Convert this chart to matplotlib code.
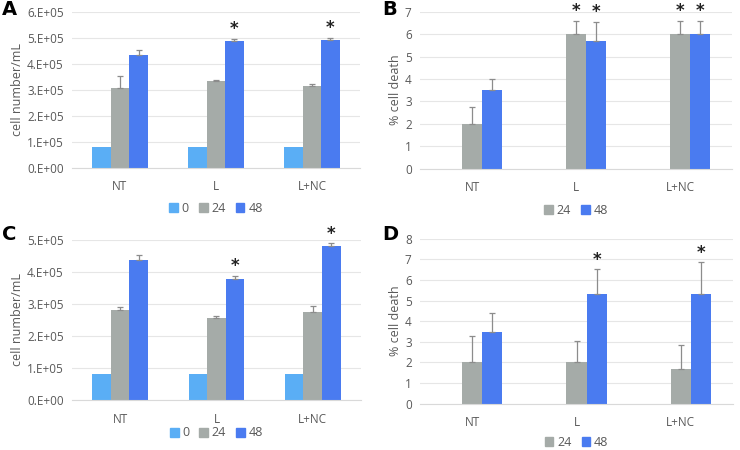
import matplotlib
matplotlib.use("Agg")
import matplotlib.pyplot as plt
import numpy as np
from matplotlib.patches import Patch

plt.rcParams['font.family'] = ['Open Sans', 'DejaVu Sans']

categories = ["NT", "L", "L+NC"]
series_names = ["0", "24", "48"]

# Panel A: cell number/mL
a_0 = [0.8e5, 0.8e5, 0.8e5]
a_24 = [3.09e5, 3.33e5, 3.14e5]
a_48 = [4.36e5, 4.90e5, 4.94e5]
a_24_err = [0.44e5, 0.05e5, 0.08e5]
a_48_err = [0.17e5, 0.07e5, 0.07e5]
a_star = [[], ["48"], ["48"]]

# Panel B: % cell death
b_24 = [2.0, 6.0, 6.0]
b_48 = [3.5, 5.68, 6.0]
b_24_err = [0.74, 0.6, 0.6]
b_48_err = [0.48, 0.87, 0.6]
b_star = [[], ["24", "48"], ["24", "48"]]

# Panel C: cell number/mL
c_0 = [0.8e5, 0.8e5, 0.8e5]
c_24 = [2.80e5, 2.57e5, 2.76e5]
c_48 = [4.37e5, 3.79e5, 4.82e5]
c_24_err = [0.11e5, 0.05e5, 0.18e5]
c_48_err = [0.15e5, 0.10e5, 0.08e5]
c_star = [[], ["48"], ["48"]]

# Panel D: % cell death
d_24 = [2.0, 2.0, 1.66]
d_48 = [3.49, 5.33, 5.33]
d_24_err = [1.28, 1.02, 1.18]
d_48_err = [0.89, 1.18, 1.52]
d_star = [[], ["48"], ["48"]]

colors = {"0": "#5aaef5", "24": "#a5aba8", "48": "#4a7bf0"}
txt = "#595959"
grid_c = "#e6e6e6"
err_c = "#8c8c8c"

fig = plt.figure(figsize=(7.4, 4.5), dpi=100)

def panel(rect, vals, errs, stars, ymax, ystep, ylabel, fmt, legend_series,
          letter, letter_xy, legend_y):
    ax = fig.add_axes(rect)
    x = np.arange(len(categories))
    w = 0.58 / 3
    offs = {"0": -w, "24": 0.0, "48": w}
    for s in ["0", "24", "48"]:
        if s not in vals:
            continue
        ax.bar(x + offs[s], vals[s], width=w, color=colors[s], zorder=2)
        if s in errs:
            ax.errorbar(x + offs[s], vals[s], yerr=[np.zeros(len(x)), errs[s]],
                        fmt='none', ecolor=err_c, elinewidth=0.9, capsize=2.5,
                        capthick=0.9, zorder=3)
    for i, st in enumerate(stars):
        for s in st:
            top = vals[s][i] + errs[s][i]
            ax.text(x[i] + offs[s], top + ymax * 0.003, "*", ha='center', va='bottom',
                    fontsize=12, fontweight='bold', color='#222222', zorder=4,
                    family='DejaVu Sans')
    ax.set_xlim(-0.5, len(categories) - 0.5)
    ax.set_ylim(0, ymax)
    ticks = np.arange(0, ymax + ystep / 2, ystep)
    ax.set_yticks(ticks)
    ax.set_yticklabels([fmt(t) for t in ticks])
    ax.set_xticks(x)
    ax.set_xticklabels(categories)
    ax.yaxis.grid(True, color=grid_c, linewidth=0.8, zorder=0)
    ax.set_axisbelow(True)
    for sp in ["top", "right", "left"]:
        ax.spines[sp].set_visible(False)
    ax.spines["bottom"].set_color("#d9d9d9")
    ax.tick_params(axis='both', length=0, colors=txt, labelsize=8.5, pad=6)
    ax.tick_params(axis='x', pad=9)
    ax.set_ylabel(ylabel, color=txt, fontsize=9, labelpad=2)
    handles = [Patch(color=colors[s], label=s) for s in legend_series]
    cx = rect[0] + rect[2] / 2
    fig.legend(handles=handles, loc='center', bbox_to_anchor=(cx, legend_y),
               bbox_transform=fig.transFigure,
               ncol=len(handles), frameon=False, handlelength=0.7, handleheight=0.7,
               handletextpad=0.3, columnspacing=0.8, fontsize=9, labelcolor=txt,
               borderpad=0.1)
    fig.text(letter_xy[0], letter_xy[1], letter, fontsize=14, fontweight='bold',
             ha='left', va='center', family='DejaVu Sans')
    return ax

sci = lambda t: ("%.0fE+05" % (t / 1e5)).replace("E", ".E") if t > 0 else "0.E+00"
intf = lambda t: "%d" % t

panel([0.0973, 0.6267, 0.389, 0.3467],
      {"0": a_0, "24": a_24, "48": a_48}, {"24": a_24_err, "48": a_48_err},
      a_star, 6e5, 1e5, "cell number/mL", sci, ["0", "24", "48"], "A",
      (0.003, 0.978), 1 - 208 / 450)

panel([0.5676, 0.6251, 0.4216, 0.349],
      {"24": b_24, "48": b_48}, {"24": b_24_err, "48": b_48_err},
      b_star, 7, 1, "% cell death", intf, ["24", "48"], "B",
      (0.516, 0.978), 1 - 210 / 450)

panel([0.0973, 0.1111, 0.3905, 0.3556],
      {"0": c_0, "24": c_24, "48": c_48}, {"24": c_24_err, "48": c_48_err},
      c_star, 5e5, 1e5, "cell number/mL", sci, ["0", "24", "48"], "C",
      (0.003, 0.478), 1 - 433 / 450)

panel([0.5676, 0.1029, 0.4230, 0.3667],
      {"24": d_24, "48": d_48}, {"24": d_24_err, "48": d_48_err},
      d_star, 8, 1, "% cell death", intf, ["24", "48"], "D",
      (0.516, 0.478), 1 - 442 / 450)

fig.savefig("out.png", dpi=100, facecolor='white')
